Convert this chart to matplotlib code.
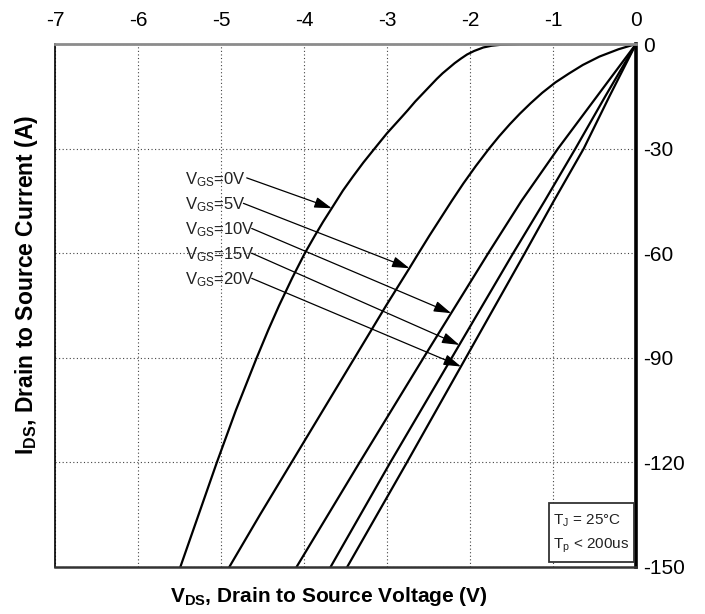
import numpy as np
import matplotlib.pyplot as plt
from matplotlib.patches import Rectangle

plt.rcParams['font.family'] = ['Liberation Sans', 'DejaVu Sans']
plt.rcParams['mathtext.fontset'] = 'custom'
plt.rcParams['mathtext.rm'] = 'Liberation Sans'
plt.rcParams['mathtext.it'] = 'Liberation Sans'
plt.rcParams['mathtext.bf'] = 'Liberation Sans:bold'
plt.rcParams['mathtext.default'] = 'regular'

# reverse conduction: drain current (A) against drain-source voltage (V)
i_0v = [0, -0.05, -0.2, -0.5, -1.0, -2.0, -3.0, -4.2, -5.5, -7, -8.4, -10, -12, -14, -16.5,
        -19, -21, -25.6, -30, -34, -38, -42, -46.7, -51, -55, -60, -67, -75, -82, -90,
        -105, -120, -135, -150]
v_0v = [0, -1.40, -1.62, -1.74, -1.84, -1.95, -2.035, -2.11, -2.185, -2.26, -2.33, -2.40,
        -2.48, -2.56, -2.66, -2.75, -2.825, -3.00, -3.15, -3.285, -3.41, -3.53, -3.655,
        -3.77, -3.87, -3.99, -4.14, -4.30, -4.43, -4.57, -4.82, -5.05, -5.27, -5.49]

i_5v = [0, -1.5, -3.6, -6.0, -8.5, -11.0, -14, -17, -20, -23, -26.5, -30, -35, -40, -45,
        -50, -55, -60, -64.3, -75, -90, -105, -120, -135, -150]
v_5v = [0, -0.21, -0.44, -0.64, -0.81, -0.97, -1.13, -1.27, -1.40, -1.52, -1.65, -1.77,
        -1.93, -2.08, -2.22, -2.355, -2.49, -2.62, -2.73, -3.01, -3.39, -3.77, -4.15,
        -4.53, -4.90]

i_10v = [0, -15, -30, -45, -60, -90, -120, -150]
v_10v = [0, -0.47, -0.94, -1.38, -1.78, -2.56, -3.33, -4.09]

i_15v = [0, -15, -30, -45, -60, -90, -120, -150]
v_15v = [0, -0.37, -0.73, -1.10, -1.48, -2.22, -2.96, -3.68]

i_20v = [0, -15, -30, -45, -60, -90, -120, -150]
v_20v = [0, -0.32, -0.63, -0.99, -1.34, -2.05, -2.76, -3.48]

vgs_labels = ['0V', '5V', '10V', '15V', '20V']
# current at which each label's arrow meets its curve
arrow_tip_i = [-47.1, -64.3, -77.2, -86.3, -92.5]

x_ticks = [-7, -6, -5, -4, -3, -2, -1, 0]
y_ticks = [0, -30, -60, -90, -120, -150]

fig = plt.figure(figsize=(7.05, 6.14), dpi=100)
ax = fig.add_axes([55 / 705, 1 - 567 / 614, 581 / 705, 523 / 614])

curves = [(v_0v, i_0v), (v_5v, i_5v), (v_10v, i_10v), (v_15v, i_15v), (v_20v, i_20v)]
for v, i in curves:
    ax.plot(v, i, color='black', lw=1.6, solid_capstyle='round', solid_joinstyle='round')

ax.set_xlim(-7, 0)
ax.set_ylim(-150, 0)
ax.set_xticks(x_ticks)
ax.set_yticks(y_ticks)
ax.set_xticklabels([str(t) for t in x_ticks])
ax.set_yticklabels([str(t) for t in y_ticks])
ax.xaxis.tick_top()
ax.yaxis.tick_right()
ax.tick_params(axis='x', length=0, pad=10, labelsize=15)
ax.tick_params(axis='y', length=0, pad=5, labelsize=15)
ax.grid(True, color='#444444', lw=0.8, linestyle=(0, (1, 2.2)))

ax.spines['top'].set_color('#8c8c8c')
ax.spines['top'].set_linewidth(2)
ax.spines['left'].set_color('black')
ax.spines['left'].set_linewidth(1.2)
ax.spines['bottom'].set_color('#333333')
ax.spines['bottom'].set_linewidth(1.8)
ax.spines['right'].set_color('black')
ax.spines['right'].set_linewidth(2.6)

# V_GS labels with arrows pointing to their curves
label_y = [-40.1, -47.3, -54.5, -61.7, -68.8]
start_x = [-4.69, -4.73, -4.63, -4.63, -4.63]
start_y = [-38.4, -45.7, -52.9, -60.0, -67.2]
for k, (lab, ti) in enumerate(zip(vgs_labels, arrow_tip_i)):
    v, i = curves[k]
    tip_v = np.interp(ti, i[::-1], v[::-1])
    ax.text(-5.43, label_y[k], r'V$_{GS}$=' + lab, fontsize=12, color='#222222',
            ha='left', va='baseline')
    ax.annotate('', xy=(tip_v, ti), xytext=(start_x[k], start_y[k]),
                arrowprops=dict(arrowstyle='-|>,head_length=0.7,head_width=0.22',
                                color='black', lw=0.9, mutation_scale=15,
                                shrinkA=0, shrinkB=0))

# test condition box
ax.add_patch(Rectangle((0.851, 0.010), 0.146, 0.113, transform=ax.transAxes,
                       facecolor='white', edgecolor='#333333', lw=1.3, zorder=5))
ax.text(0.857, 0.088, r'T$_J$ = 25°C', transform=ax.transAxes, fontsize=11,
        color='#222222', ha='left', va='center', zorder=6)
ax.text(0.857, 0.040, r'T$_p$ < 200us', transform=ax.transAxes, fontsize=11,
        color='#222222', ha='left', va='center', zorder=6)

fig.text(27 / 705, 1 - 285 / 614, r'I$_{\mathbf{DS}}$, Drain to Source Current (A)',
         rotation=90, fontsize=16.5, fontweight='bold', ha='center', va='center')
fig.text(329 / 705, 1 - 597 / 614, r'V$_{\mathbf{DS}}$, Drain to Source Voltage (V)',
         fontsize=15, fontweight='bold', ha='center', va='center')

fig.savefig('out.png', dpi=100)
